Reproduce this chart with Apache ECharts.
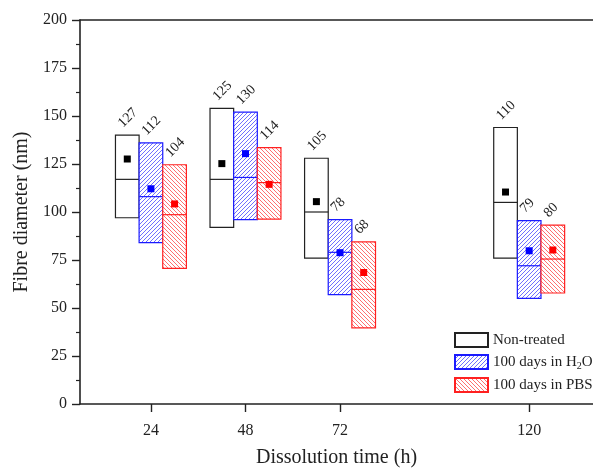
<!DOCTYPE html>
<html>
<head>
<meta charset="utf-8">
<script src="https://cdn.jsdelivr.net/npm/echarts@6/dist/echarts.min.js"></script>
<style>
  html, body { margin: 0; padding: 0; background: #fff; }
  #chart { width: 593px; height: 468px; }
</style>
</head>
<body>
<div id="chart"></div>
<script>
// dissolution time (h)
var hours = [24, 48, 72, 120];

// non-treated: box low / median / high, mean, label
var ntLow = [97, 92, 76, 76];
var ntMed = [117, 117, 100, 105];
var ntHigh = [140, 154, 128, 144];
var ntMean = [127.6, 125.2, 105.4, 110.4];
var ntLabel = [127, 125, 105, 110];

// 100 days in H2O
var h2oLow = [84, 96, 57, 55];
var h2oMed = [108, 118, 79, 72];
var h2oHigh = [136, 152, 96, 95.5];
var h2oMean = [112.1, 130.4, 78.8, 79.8];
var h2oLabel = [112, 130, 78, 79];

// 100 days in PBS
var pbsLow = [70.6, 96.3, 39.6, 57.8];
var pbsMed = [98.6, 115.3, 59.7, 75.5];
var pbsHigh = [124.6, 133.5, 84.4, 93.2];
var pbsMean = [104.2, 114.4, 68.5, 80.2];
var pbsLabel = [104, 114, 68, 80];

var yTicks = [0, 25, 50, 75, 100, 125, 150, 175, 200];

var FONT = 'Liberation Serif';

// hatch patterns, 1px diagonal lines drawn pixel by pixel
function hatch(color, forward) {
  var n = 4;
  var c = document.createElement('canvas');
  c.width = n; c.height = n;
  var ctx = c.getContext('2d');
  ctx.fillStyle = '#fff';
  ctx.fillRect(0, 0, n, n);
  ctx.fillStyle = color;
  for (var i = 0; i < n; i++) {
    ctx.fillRect(i, forward ? n - 1 - i : i, 1, 1);
  }
  return { image: c, repeat: 'repeat' };
}

var groups = [
  { name: 'Non-treated', offset: -1, low: ntLow, med: ntMed, high: ntHigh, mean: ntMean, label: ntLabel,
    line: '#222', fill: '#fff', marker: '#000' },
  { name: '100 days in H2O', offset: 0, low: h2oLow, med: h2oMed, high: h2oHigh, mean: h2oMean, label: h2oLabel,
    line: '#1a1aff', fill: hatch('#7070ff', true), marker: '#0000ff' },
  { name: '100 days in PBS', offset: 1, low: pbsLow, med: pbsMed, high: pbsHigh, mean: pbsMean, label: pbsLabel,
    line: '#ff2020', fill: hatch('#ff7070', false), marker: '#ff0000' }
];

var boxHours = 6; // box width in axis units

function makeSeries(g) {
  var rows = hours.map(function (h, i) {
    return [h, g.low[i], g.med[i], g.high[i], g.mean[i], g.label[i]];
  });
  return {
    name: g.name,
    type: 'custom',
    itemStyle: { color: g.fill, borderColor: g.line, borderWidth: 1.2 },
    data: rows,
    renderItem: function (params, api) {
      var w = api.size([boxHours, 0])[0];
      var cx = api.coord([api.value(0), 0])[0] + g.offset * w;
      var left = cx - w / 2;
      var yLow = api.coord([api.value(0), api.value(1)])[1];
      var yMed = api.coord([api.value(0), api.value(2)])[1];
      var yHigh = api.coord([api.value(0), api.value(3)])[1];
      var yMean = api.coord([api.value(0), api.value(4)])[1];
      return {
        type: 'group',
        children: [
          { type: 'rect', shape: { x: left, y: yHigh, width: w, height: yLow - yHigh },
            style: { fill: g.fill, stroke: g.line, lineWidth: 1.2 } },
          { type: 'line', shape: { x1: left, y1: yMed, x2: left + w, y2: yMed },
            style: { stroke: g.line, lineWidth: 1.2 } },
          { type: 'rect', shape: { x: cx - 3.5, y: yMean - 3.5, width: 7, height: 7 },
            style: { fill: g.marker } },
          { type: 'text', x: left + 10, y: yHigh - 5, rotation: Math.PI / 4,
            style: { text: String(api.value(5)), fill: '#222', font: '14px "' + FONT + '"',
              align: 'left', verticalAlign: 'bottom' } }
        ]
      };
    }
  };
}

var chart = echarts.init(document.getElementById('chart'), null, { renderer: 'canvas' });
var option = {
  animation: false,
  backgroundColor: '#fff',
  textStyle: { fontFamily: FONT },
  grid: { left: 80, right: 0, top: 20, bottom: 64, outerBoundsMode: 'none' },
  legend: {
    orient: 'vertical',
    left: 454,
    top: 332,
    padding: 0,
    icon: 'rect',
    itemWidth: 33,
    itemHeight: 14,
    itemGap: 6,
    textStyle: { fontFamily: FONT, fontSize: 15, color: '#222',
      rich: { sub: { fontFamily: FONT, fontSize: 10, color: '#222', verticalAlign: 'bottom', padding: [8, 0, 0, 0] } } },
    formatter: function (name) {
      return name === '100 days in H2O' ? '100 days in H{sub|2}O' : name;
    },
    data: groups.map(function (g) { return g.name; })
  },
  xAxis: [{
    type: 'value',
    min: 6,
    max: 136.2,
    name: 'Dissolution time (h)',
    nameLocation: 'middle',
    nameGap: 44,
    nameTextStyle: { fontFamily: FONT, fontSize: 20, color: '#222' },
    axisLine: { lineStyle: { color: '#222', width: 1.6 } },
    axisTick: { show: true, inside: false, length: 8, customValues: hours, lineStyle: { color: '#222', width: 1.4 } },
    axisLabel: { customValues: hours, margin: 19, fontFamily: FONT, fontSize: 16, color: '#222' },
    splitLine: { show: false }
  }, {
    type: 'value',
    position: 'top',
    min: 6,
    max: 136.2,
    axisLine: { show: true, lineStyle: { color: '#222', width: 1.6 } },
    axisTick: { show: false },
    axisLabel: { show: false },
    splitLine: { show: false }
  }],
  yAxis: {
    type: 'value',
    min: 0,
    max: 200,
    interval: 25,
    name: 'Fibre diameter (nm)',
    nameLocation: 'middle',
    nameGap: 48,
    nameTextStyle: { fontFamily: FONT, fontSize: 20, color: '#222' },
    axisLine: { show: true, lineStyle: { color: '#222', width: 1.6 } },
    axisTick: { show: true, inside: false, length: 8, lineStyle: { color: '#222', width: 1.4 } },
    minorTick: { show: true, splitNumber: 2, length: 4, lineStyle: { color: '#222', width: 1.2 } },
    axisLabel: { margin: 13, fontFamily: FONT, fontSize: 16, color: '#222',
      formatter: function (v) { return yTicks.indexOf(v) >= 0 ? String(v) : ''; } },
    splitLine: { show: false }
  },
  series: groups.map(makeSeries)
};
chart.setOption(option);
window.addEventListener('resize', function () { chart.resize(); });
</script>
</body>
</html>
